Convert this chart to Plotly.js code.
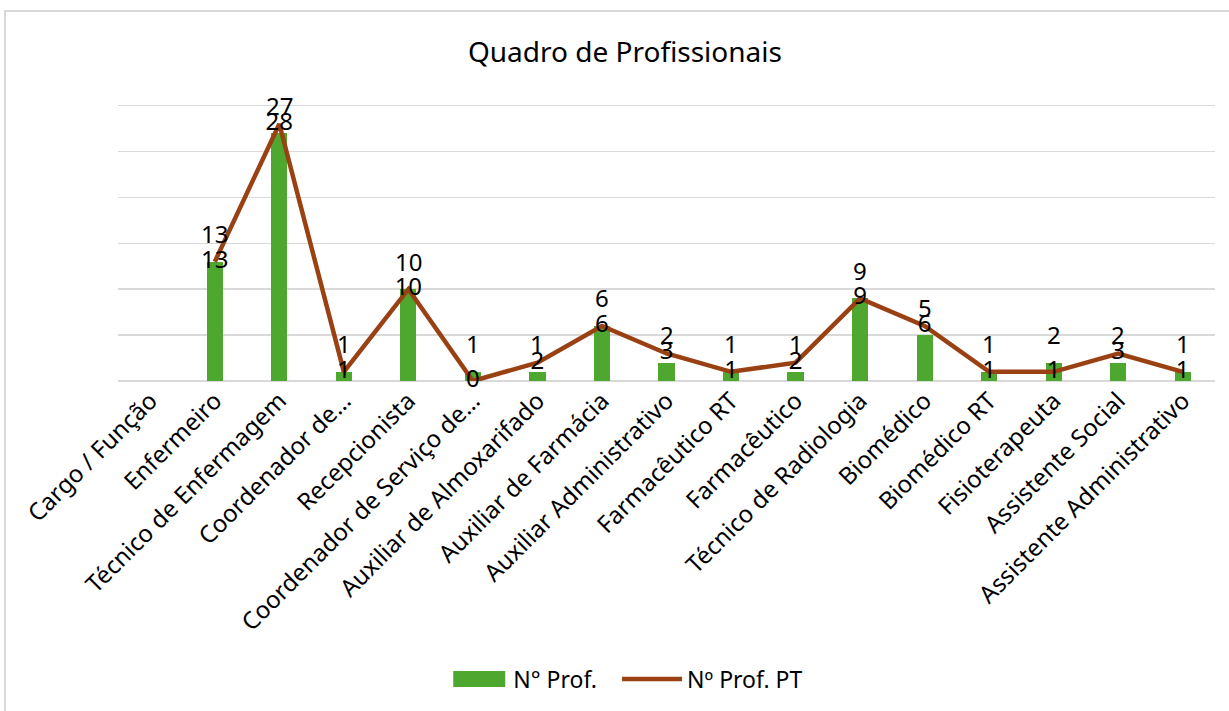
<!DOCTYPE html>
<html>
<head>
<meta charset="utf-8">
<script src="https://cdn.plot.ly/plotly-3.0.1.min.js"></script>
<style>
  html, body { margin: 0; padding: 0; background: #ffffff; overflow: hidden; width: 1229px; height: 711px; }
  #frame { position: absolute; left: 4px; top: 10px; width: 1225px; height: 701px;
           border-left: 2px solid #d9d9d9; border-top: 2px solid #d9d9d9; box-sizing: border-box; }
  #chart { position: absolute; left: 0; top: 0; width: 1229px; height: 711px; }
</style>
</head>
<body>
<div id="frame"></div>
<div id="chart"></div>
<script>
const categories = [
  "Cargo / Função", "Enfermeiro", "Técnico de Enfermagem", "Coordenador de…",
  "Recepcionista", "Coordenador de Serviço de…", "Auxiliar de Almoxarifado",
  "Auxiliar de Farmácia", "Auxiliar Administrativo", "Farmacêutico RT",
  "Farmacêutico", "Técnico de Radiologia", "Biomédico", "Biomédico RT",
  "Fisioterapeuta", "Assistente Social", "Assistente Administrativo"
];
const profValues   = [null, 13, 27, 1, 10, 1, 1, 6, 2, 1, 1, 9, 5, 1, 2, 2, 1];
const profPTValues = [null, 13, 28, 1, 10, 0, 2, 6, 3, 1, 2, 9, 6, 1, 1, 3, 1];
const seriesNames = ["N° Prof.", "Nº Prof. PT"];
const chartTitle = "Quadro de Profissionais";

const FONT = "Noto Sans, Open Sans, sans-serif";
const GREEN = "#4ea72e";
const BROWN = "#9a4114";

const barTrace = {
  type: "bar",
  name: seriesNames[0],
  x: categories,
  y: profValues,
  width: 0.25,
  marker: { color: GREEN },
  hoverinfo: "skip"
};

const lineTrace = {
  type: "scatter",
  mode: "lines",
  name: seriesNames[1],
  x: categories,
  y: profPTValues,
  line: { color: BROWN, width: 4.5 },
  connectgaps: false,
  hoverinfo: "skip"
};

const lineLabelTrace = {
  type: "scatter",
  mode: "text",
  showlegend: false,
  x: categories,
  y: profPTValues,
  text: profPTValues.map(v => v === null ? "" : String(v)),
  textposition: "middle center",
  textfont: { family: FONT, size: 24, color: "#000000" },
  cliponaxis: false,
  hoverinfo: "skip"
};

const barLabels = [];
profValues.forEach((v, i) => {
  if (v === null) return;
  barLabels.push({
    x: categories[i], y: v, xref: "x", yref: "y",
    text: String(v), showarrow: false, yshift: 28,
    font: { family: FONT, size: 24, color: "#000000" }
  });
});

const layout = {
  width: 1229, height: 711,
  paper_bgcolor: "rgba(0,0,0,0)",
  plot_bgcolor: "rgba(0,0,0,0)",
  margin: { l: 118, r: 14, t: 102, b: 329, pad: 0 },
  title: {
    text: chartTitle,
    font: { family: FONT, size: 28, color: "#000000" },
    xref: "container", x: 0.5085, xanchor: "center",
    yref: "container", y: 1 - 52 / 711, yanchor: "middle"
  },
  xaxis: {
    type: "category",
    range: [-0.5, categories.length - 0.5],
    tickangle: -45,
    tickfont: { family: FONT, size: 24, color: "#000000" },
    showgrid: false,
    showline: false,
    ticks: "",
    automargin: false,
    fixedrange: true
  },
  yaxis: {
    range: [0, 30.4],
    dtick: 5,
    tick0: 0,
    showticklabels: false,
    showgrid: true,
    gridcolor: "#d9d9d9",
    gridwidth: 1.5,
    zeroline: true,
    zerolinecolor: "#d9d9d9",
    zerolinewidth: 1.5,
    ticks: "",
    automargin: false,
    fixedrange: true
  },
  showlegend: true,
  legend: {
    orientation: "h",
    x: 0.456, xanchor: "center",
    y: (382 - 679) / 280, yanchor: "middle",
    font: { family: FONT, size: 23, color: "#000000" },
    itemwidth: 60,
    traceorder: "normal"
  },
  annotations: barLabels,
  bargap: 0
};

Plotly.newPlot("chart", [barTrace, lineTrace, lineLabelTrace], layout,
  { displayModeBar: false, staticPlot: true }).then(function (gd) {
  // Make the legend keys look like the original: a wide green block and a thick rounded line.
  gd.querySelectorAll(".legend .scrollbox, .legend").forEach(function (g) {
    g.removeAttribute("clip-path");
  });
  const items = gd.querySelectorAll(".legend .traces");
  items.forEach(function (item, idx) {
    const pts = item.querySelectorAll(".legendpoints path");
    if (idx === 0) {
      pts.forEach(function (p) {
        p.setAttribute("transform", "");
        p.setAttribute("d", "M10,-8H62V8H10Z");
      });
    } else {
      pts.forEach(function (p) {
        p.setAttribute("d", "M10,0H64");
        p.style.strokeWidth = "5px";
        p.style.strokeLinecap = "round";
      });
      const tr = item.getAttribute("transform") || "";
      const m = tr.match(/translate\(\s*([-\d.]+)[ ,]+([-\d.]+)\s*\)/);
      if (m) {
        item.setAttribute("transform",
          "translate(" + (parseFloat(m[1]) + 15) + "," + m[2] + ")");
      }
    }
  });
});
</script>
</body>
</html>
